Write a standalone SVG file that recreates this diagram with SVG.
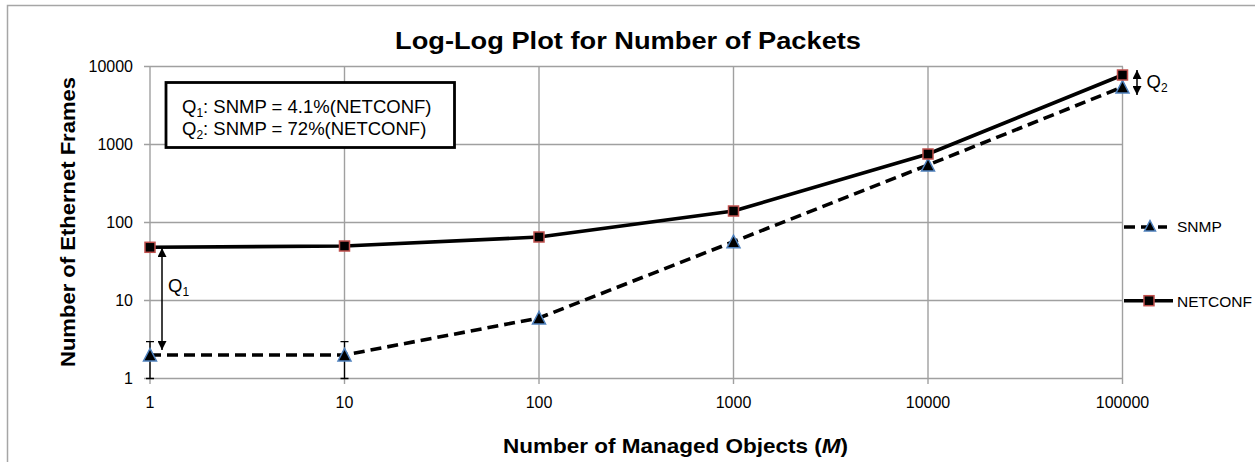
<svg xmlns="http://www.w3.org/2000/svg" width="1255" height="462" viewBox="0 0 1255 462">
<style>
  text { font-family: "Liberation Sans", Arial, sans-serif; fill: #000; }
  .grid { stroke: #a0a0a0; stroke-width: 1.4; fill: none; }
  .tick { font-size: 15.5px; }
  .tx { font-size: 16px; text-anchor: middle; }
  .ty { font-size: 16px; text-anchor: end; }
  .lbl { font-size: 18.5px; }
  .bold { font-weight: bold; }
  .sol { stroke: #000; stroke-width: 3.6; fill: none; stroke-linejoin: round; }
  .dash { stroke: #000; stroke-width: 3.6; fill: none; stroke-dasharray: 11 6; }
  .sq { fill: #000; stroke: #c0504d; stroke-width: 1.5; }
  .tri { fill: #000; stroke: #4f81bd; stroke-width: 1.5; stroke-linejoin: miter; }
  .eb { stroke: #000; stroke-width: 1.3; fill: none; }
  .arr { stroke: #000; stroke-width: 1.5; fill: none; }
</style>
<defs>
  <marker id="ah" viewBox="0 0 10 10" refX="10" refY="5" markerWidth="9" markerHeight="9" markerUnits="userSpaceOnUse" orient="auto-start-reverse">
    <path d="M0,0 L10,5 L0,10 Z" fill="#000"/>
  </marker>
</defs>
<rect width="1255" height="462" fill="#fff"/>
<!-- chart border -->
<path d="M7.5,462 V5.5 H1255" stroke="#a6a6a6" stroke-width="1.5" fill="none"/>

<!-- title -->
<text x="628" y="49" class="bold" font-size="23" text-anchor="middle" textLength="466" lengthAdjust="spacingAndGlyphs">Log-Log Plot for Number of Packets</text>

<g id="grid">
  <path class="grid" d="M150,66.5 H1123 M150,144.5 H1123 M150,222.5 H1123 M150,300.5 H1123 M150,378.5 H1123"/>
  <path class="grid" d="M150,66.5 V384 M344.5,66.5 V384 M539,66.5 V384 M733.5,66.5 V384 M928,66.5 V384 M1122.5,66.5 V384"/>
  <path class="grid" d="M144,66.5 H150 M144,144.5 H150 M144,222.5 H150 M144,300.5 H150 M144,378.5 H150"/>
</g>

<g id="y-axis-labels">
  <text class="ty" x="133" y="72">10000</text>
  <text class="ty" x="133" y="150">1000</text>
  <text class="ty" x="133" y="228">100</text>
  <text class="ty" x="133" y="306">10</text>
  <text class="ty" x="133" y="384">1</text>
</g>
<g id="x-axis-labels">
  <text class="tx" x="150" y="408">1</text>
  <text class="tx" x="344.5" y="408">10</text>
  <text class="tx" x="539" y="408">100</text>
  <text class="tx" x="733.5" y="408">1000</text>
  <text class="tx" x="928" y="408">10000</text>
  <text class="tx" x="1122.5" y="408">100000</text>
</g>

<text class="bold" font-size="20" transform="translate(75,222) rotate(-90)" text-anchor="middle" textLength="290" lengthAdjust="spacingAndGlyphs">Number of Ethernet Frames</text>
<text class="bold" font-size="20.5" x="503" y="453" textLength="345" lengthAdjust="spacingAndGlyphs">Number of Managed Objects (<tspan font-style="italic">M</tspan>)</text>

<g id="connectors">
  <g id="error-bars">
    <path class="eb" d="M150,341.7 V378.5 M146,341.7 H154 M146,378.5 H154"/>
    <path class="eb" d="M344.5,341.7 V378.5 M340.5,341.7 H348.5 M340.5,378.5 H348.5"/>
  </g>
  <path id="snmp-line" class="dash" d="M150,355 L344.5,355 L539,318 L733.5,241.7 L928,165 L1122.5,87"/>
  <path id="netconf-line" class="sol" d="M150,247.3 L344.5,246 L539,237 L733.5,211 L928,154 L1122.5,75"/>
  <path id="q1-arrow" class="arr" d="M162,248 V350" marker-start="url(#ah)" marker-end="url(#ah)"/>
  <path id="q2-arrow" class="arr" d="M1137,70 V95" marker-start="url(#ah)" marker-end="url(#ah)"/>
</g>

<g id="snmp-markers">
  <path class="tri" d="M150,348.5 L143.5,361 L156.5,361 Z"/>
  <path class="tri" d="M344.5,348.5 L338,361 L351,361 Z"/>
  <path class="tri" d="M539,311.5 L532.5,324 L545.5,324 Z"/>
  <path class="tri" d="M733.5,235.2 L727,247.7 L740,247.7 Z"/>
  <path class="tri" d="M928,158.5 L921.5,171 L934.5,171 Z"/>
  <path class="tri" d="M1122.5,80.5 L1116,93 L1129,93 Z"/>
</g>
<g id="netconf-markers">
  <rect class="sq" x="145" y="242.3" width="10" height="10"/>
  <rect class="sq" x="339.5" y="241" width="10" height="10"/>
  <rect class="sq" x="534" y="232" width="10" height="10"/>
  <rect class="sq" x="728.5" y="206" width="10" height="10"/>
  <rect class="sq" x="923" y="149" width="10" height="10"/>
  <rect class="sq" x="1117.5" y="70" width="10" height="10"/>
</g>

<g id="q1-label">
  <text class="lbl" x="168" y="291.5">Q<tspan font-size="12" dy="4">1</tspan></text>
</g>
<g id="q2-label">
  <text class="lbl" x="1146.5" y="88">Q<tspan font-size="12" dy="4">2</tspan></text>
</g>

<g id="annotation-box">
  <rect x="166" y="82.5" width="288.5" height="65" fill="#fff" stroke="#000" stroke-width="2.8"/>
  <text class="lbl" x="182" y="113">Q<tspan font-size="12" dy="4">1</tspan><tspan dy="-4">: SNMP = 4.1%(NETCONF)</tspan></text>
  <text class="lbl" x="182" y="135">Q<tspan font-size="12" dy="4">2</tspan><tspan dy="-4">: SNMP = 72%(NETCONF)</tspan></text>
</g>

<g id="legend-snmp">
  <path class="dash" d="M1124,227 H1167" stroke-dasharray="8 5"/>
  <path class="tri" d="M1150,220.5 L1144.5,231 L1155.5,231 Z"/>
  <text class="tick" x="1177" y="232">SNMP</text>
</g>
<g id="legend-netconf">
  <path class="sol" d="M1124,300.7 H1173"/>
  <rect class="sq" x="1144" y="295.7" width="10" height="10"/>
  <text class="tick" x="1177" y="306.5">NETCONF</text>
</g>
</svg>
